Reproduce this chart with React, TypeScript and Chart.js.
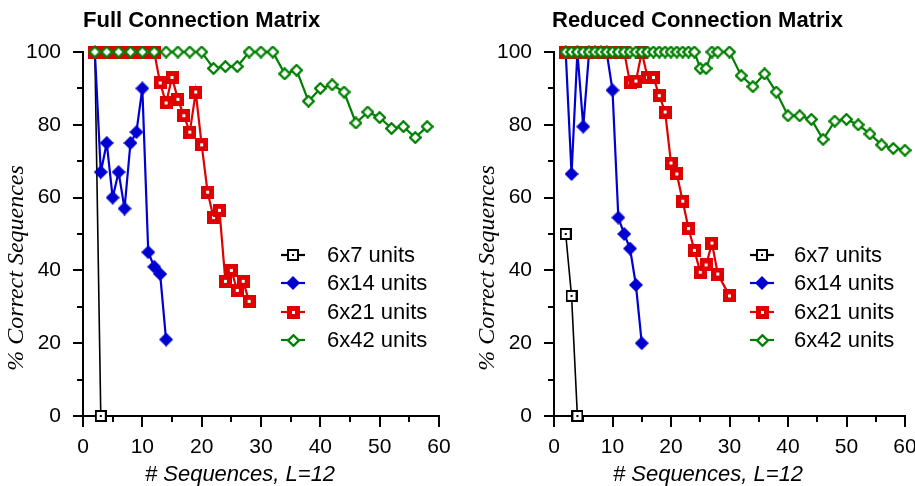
import React, { useEffect, useRef } from 'react';
import { Chart, registerables } from 'chart.js';

Chart.register(...registerables);

// ---------- data ----------
const seriesLabels = ['6x7 units', '6x14 units', '6x21 units', '6x42 units'];

// Full connection matrix
const fullX7 = [2, 3];
const full7 = [100, 0];
const fullX14 = [2, 3, 4, 5, 6, 7, 8, 9, 10, 11, 12, 13, 14];
const full14 = [100, 67, 75, 60, 67, 57, 75, 78, 90, 45, 41, 39, 21];
const fullX21 = [2, 3, 4, 5, 6, 7, 8, 9, 10, 11, 12, 13, 14, 15, 16, 17, 18, 19, 20, 21, 22, 23, 24, 25, 26, 27, 28];
const full21 = [100, 100, 100, 100, 100, 100, 100, 100, 100, 100, 100, 91.5, 86, 93, 87, 82.5, 78, 89, 74.5, 61.5, 54.5, 56.5, 37, 40, 34.5, 37, 31.5];
const fullX42 = [2, 4, 6, 8, 10, 12, 14, 16, 18, 20, 22, 24, 26, 28, 30, 32, 34, 36, 38, 40, 42, 44, 46, 48, 50, 52, 54, 56, 58];
const full42 = [100, 100, 100, 100, 100, 100, 100, 100, 100, 100, 95.5, 96, 96, 100, 100, 100, 94, 95, 86.5, 90, 91, 89, 80.5, 83.5, 82, 79, 79.5, 76.5, 79.5];

// Reduced connection matrix
const redX7 = [2, 3, 4];
const red7 = [50, 33, 0];
const redX14 = [2, 3, 4, 5, 6, 7, 8, 9, 10, 11, 12, 13, 14, 15];
const red14 = [100, 66.5, 100, 79.5, 100, 100, 100, 100, 89.5, 54.5, 50, 46, 36, 20];
const redX21 = [2, 3, 4, 5, 6, 7, 8, 9, 10, 11, 12, 13, 14, 15, 16, 17, 18, 19, 20, 21, 22, 23, 24, 25, 26, 27, 28, 30];
const red21 = [100, 100, 100, 100, 100, 100, 100, 100, 100, 100, 100, 91.5, 92, 100, 93, 93, 88, 83.5, 69.5, 66.5, 59, 51.5, 45.5, 39.5, 41.5, 47.5, 39, 33];
const redX42 = [2, 3, 4, 5, 6, 7, 8, 9, 10, 11, 12, 13, 14, 15, 16, 17, 18, 19, 20, 21, 22, 23, 24, 25, 26, 27, 28, 30, 32, 34, 36, 38, 40, 42, 44, 46, 48, 50, 52, 54, 56, 58, 60];
const red42 = [100, 100, 100, 100, 100, 100, 100, 100, 100, 100, 100, 100, 100, 100, 100, 100, 100, 100, 100, 100, 100, 100, 100, 95.5, 95.5, 100, 100, 100, 93.5, 90.5, 94, 89, 82.5, 82.5, 81.5, 76, 81, 81.5, 80, 77.5, 74.5, 73.5, 73];

const xTitle = '# Sequences, L=12';
const yTitle = '% Correct Sequences';

// ---------- styles ----------
const COLORS = ['#000000', '#0000d0', '#e00000', '#008000'];
const SANS = "'Liberation Sans', Arial, Helvetica, sans-serif";
const SERIF = "'Liberation Serif', 'Times New Roman', serif";
const H = 486;

function makeMarker(i: number): HTMLCanvasElement {
  const c = document.createElement('canvas');
  if (i === 0) {
    c.width = 12; c.height = 12;
    const g = c.getContext('2d')!;
    g.fillStyle = '#000'; g.fillRect(0, 0, 12, 12);
    g.fillStyle = '#fff'; g.fillRect(2, 2, 8, 8);
    g.fillStyle = '#000'; g.fillRect(5, 5, 2, 2);
  } else if (i === 1) {
    c.width = 14; c.height = 14;
    const g = c.getContext('2d')!;
    g.fillStyle = COLORS[1];
    g.beginPath(); g.moveTo(7, 0); g.lineTo(14, 7); g.lineTo(7, 14); g.lineTo(0, 7); g.closePath(); g.fill();
  } else if (i === 2) {
    c.width = 13; c.height = 13;
    const g = c.getContext('2d')!;
    g.fillStyle = COLORS[2]; g.fillRect(0, 0, 13, 13);
    g.fillStyle = '#fff'; g.fillRect(5, 5, 3, 3);
  } else {
    c.width = 13; c.height = 13;
    const g = c.getContext('2d')!;
    g.fillStyle = '#fff'; g.strokeStyle = COLORS[3]; g.lineWidth = 2.3;
    g.beginPath(); g.moveTo(6.5, 1.2); g.lineTo(11.8, 6.5); g.lineTo(6.5, 11.8); g.lineTo(1.2, 6.5); g.closePath();
    g.fill(); g.stroke();
  }
  return c;
}

type Panel = {
  title: string;
  width: number;
  area: { left: number; right: number; top: number; bottom: number };
  xs: number[][];
  ys: number[][];
  titleX: number;
  xTitleX: number;
  yTitleX: number;
  legendMarkerX: number;
  legendTextX: number;
};

const legendRows = [255, 283, 312, 340];

function buildChart(canvas: HTMLCanvasElement, p: Panel) {
  const markers = [0, 1, 2, 3].map(makeMarker);
  const datasets = p.xs.map((xs, i) => ({
    label: seriesLabels[i],
    data: xs.map((x, j) => ({ x, y: p.ys[i][j] })),
    borderColor: COLORS[i],
    backgroundColor: COLORS[i],
    borderWidth: i === 0 ? 1.6 : 2.2,
    pointStyle: markers[i] as any,
    pointRadius: 6,
    tension: 0,
    fill: false,
    clip: false as any,
    order: 3 - i,
  }));

  const decor = {
    id: 'decor',
    beforeDatasetsDraw(chart: any) {
      const ctx = chart.ctx;
      const xs = chart.scales.x;
      const ys = chart.scales.y;
      const a = chart.chartArea;
      ctx.save();
      ctx.strokeStyle = '#000';
      ctx.lineWidth = 2;
      ctx.beginPath();
      xs.ticks.forEach((t: any) => {
        const px = Math.round(xs.getPixelForValue(t.value));
        const len = t.value % 10 === 0 ? 11 : 6;
        ctx.moveTo(px, a.bottom);
        ctx.lineTo(px, a.bottom + len);
      });
      ys.ticks.forEach((t: any) => {
        const py = Math.round(ys.getPixelForValue(t.value));
        const len = t.value % 20 === 0 ? 10 : 6;
        ctx.moveTo(a.left, py);
        ctx.lineTo(a.left - len, py);
      });
      ctx.stroke();
      ctx.restore();
    },
    afterDraw(chart: any) {
      const ctx = chart.ctx;
      ctx.save();
      ctx.fillStyle = '#000';
      // chart title
      ctx.font = `bold 22px ${SANS}`;
      ctx.textAlign = 'left';
      ctx.textBaseline = 'middle';
      ctx.fillText(p.title, p.titleX, 21);
      // x axis title
      ctx.font = `italic 22px ${SANS}`;
      ctx.textAlign = 'center';
      ctx.fillText(xTitle, p.xTitleX, 475);
      // y axis title
      ctx.save();
      ctx.translate(p.yTitleX, 268);
      ctx.rotate(-Math.PI / 2);
      ctx.font = `italic 24px ${SERIF}`;
      ctx.textAlign = 'center';
      ctx.textBaseline = 'middle';
      ctx.fillText(yTitle, 0, 0);
      ctx.restore();
      // legend
      seriesLabels.forEach((lab, i) => {
        const y = legendRows[i];
        ctx.strokeStyle = COLORS[i];
        ctx.lineWidth = 2.2;
        ctx.beginPath();
        ctx.moveTo(p.legendMarkerX - 12, y);
        ctx.lineTo(p.legendMarkerX + 12, y);
        ctx.stroke();
        const m = markers[i];
        ctx.drawImage(m, Math.round(p.legendMarkerX - m.width / 2), Math.round(y - m.height / 2));
        ctx.fillStyle = '#000';
        ctx.font = `22px ${SANS}`;
        ctx.textAlign = 'left';
        ctx.textBaseline = 'middle';
        ctx.fillText(lab, p.legendTextX, y + 1);
      });
      ctx.restore();
    },
  };

  const a = p.area;
  return new Chart(canvas, {
    type: 'line',
    data: { datasets: datasets as any },
    options: {
      animation: false,
      responsive: false,
      events: [],
      layout: { padding: { left: 0, top: a.top, right: p.width - a.right, bottom: 0 } },
      plugins: { legend: { display: false }, tooltip: { enabled: false }, title: { display: false } },
      scales: {
        x: {
          type: 'linear',
          min: 0,
          max: 60,
          afterFit(s: any) { s.height = H - a.bottom; s.paddingLeft = 0; s.paddingRight = 0; },
          ticks: {
            stepSize: 5,
            autoSkip: false,
            maxRotation: 0,
            minRotation: 0,
            padding: 19,
            color: '#000',
            font: { family: SANS, size: 21 },
            callback: (v: any) => (Number(v) % 10 === 0 ? String(v) : ''),
          },
          grid: { display: false, drawTicks: false },
          border: { display: true, color: '#000', width: 2 },
        },
        y: {
          type: 'linear',
          min: 0,
          max: 100,
          afterFit(s: any) { s.width = a.left; s.paddingTop = 0; s.paddingBottom = 0; },
          ticks: {
            stepSize: 10,
            autoSkip: false,
            padding: 22,
            color: '#000',
            font: { family: SANS, size: 21 },
            callback: (v: any) => (Number(v) % 20 === 0 ? String(v) : ''),
          },
          grid: { display: false, drawTicks: false },
          border: { display: true, color: '#000', width: 2 },
        },
      },
    } as any,
    plugins: [decor],
  });
}

const leftPanel: Panel = {
  title: 'Full Connection Matrix',
  width: 457,
  area: { left: 83, right: 439, top: 52, bottom: 416 },
  xs: [fullX7, fullX14, fullX21, fullX42],
  ys: [full7, full14, full21, full42],
  titleX: 83,
  xTitleX: 240,
  yTitleX: 17,
  legendMarkerX: 293,
  legendTextX: 327,
};

const rightPanel: Panel = {
  title: 'Reduced Connection Matrix',
  width: 458,
  area: { left: 97, right: 448, top: 52, bottom: 416 },
  xs: [redX7, redX14, redX21, redX42],
  ys: [red7, red14, red21, red42],
  titleX: 95,
  xTitleX: 251,
  yTitleX: 31,
  legendMarkerX: 305,
  legendTextX: 337,
};

function ChartPanel({ panel, left }: { panel: Panel; left: number }) {
  const ref = useRef<HTMLCanvasElement | null>(null);
  useEffect(() => {
    if (!ref.current) return;
    const chart = buildChart(ref.current, panel);
    return () => chart.destroy();
  }, [panel]);
  return (
    <canvas
      ref={ref}
      width={panel.width}
      height={H}
      style={{ position: 'absolute', left, top: 0, width: panel.width, height: H }}
    />
  );
}

export default function App() {
  return (
    <div style={{ position: 'fixed', left: 0, top: 0, width: 915, height: H, background: '#fff', overflow: 'hidden' }}>
      <ChartPanel panel={leftPanel} left={0} />
      <ChartPanel panel={rightPanel} left={457} />
    </div>
  );
}
